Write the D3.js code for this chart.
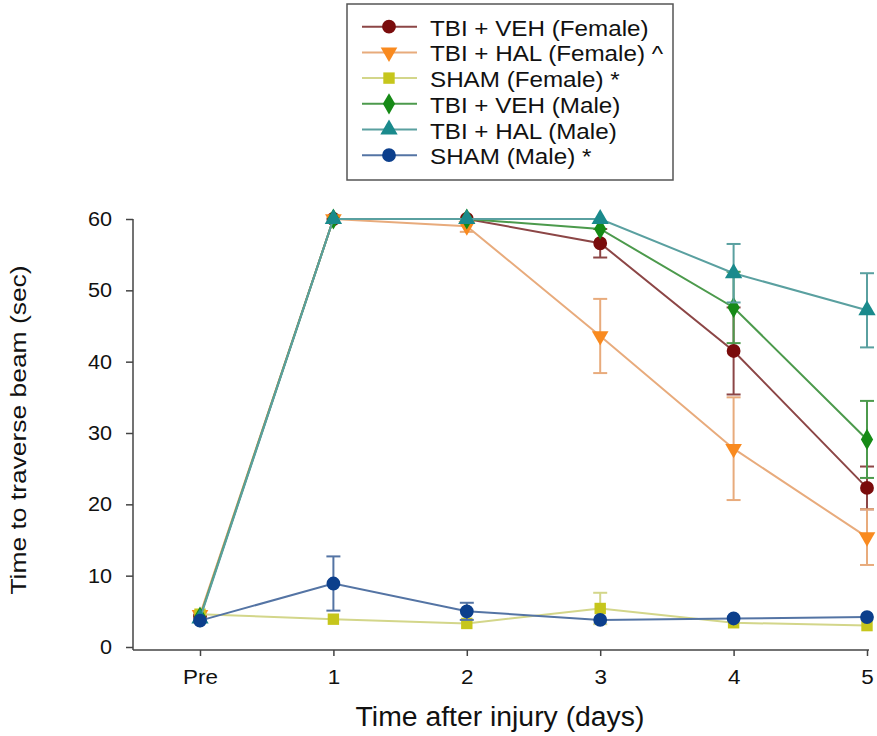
<!DOCTYPE html>
<html>
<head>
<meta charset="utf-8">
<script src="https://cdn.jsdelivr.net/npm/d3@7"></script>
<style>
  body { margin: 0; background: #fff; }
  text { font-family: "Liberation Sans", Arial, sans-serif; fill: #111; }
</style>
</head>
<body>
<div id="chart"></div>
<script>
// Data
var days = ["Pre", "1", "2", "3", "4", "5"];
var seriesNames = ["TBI + VEH (Female)", "TBI + HAL (Female) ^", "SHAM (Female) *",
                   "TBI + VEH (Male)", "TBI + HAL (Male)", "SHAM (Male) *"];
var vehFemale = [4.3, 60, 60, 56.6, 41.5, 22.3];
var vehFemaleErr = [0, 0, 0, 2.0, 6.1, 3.0];
var halFemale = [4.5, 60, 59.0, 43.6, 27.8, 15.4];
var halFemaleErr = [0, 0, 0.8, 5.2, 7.2, 3.9];
var shamFemale = [4.6, 3.9, 3.3, 5.4, 3.4, 3.0];
var shamFemaleErr = [0, 0, 0, 2.2, 0, 0];
var vehMale = [4.2, 60, 60, 58.6, 47.6, 29.1];
var vehMaleErr = [0, 0, 0, 0, 5.0, 5.4];
var halMale = [4.0, 60, 60, 60, 52.4, 47.2];
var halMaleErr = [0, 0, 0, 0, 4.1, 5.2];
var shamMale = [3.7, 8.9, 5.0, 3.8, 4.0, 4.2];
var shamMaleErr = [0, 3.8, 1.2, 0, 0, 0];
var yTicks = [0, 10, 20, 30, 40, 50, 60];

var values = [vehFemale, halFemale, shamFemale, vehMale, halMale, shamMale];
var errors = [vehFemaleErr, halFemaleErr, shamFemaleErr, vehMaleErr, halMaleErr, shamMaleErr];
var markerColors = ["#7a0c0c", "#f98a1f", "#c6c61c", "#168a16", "#1a8a8c", "#0c3f8c"];
var lineColors = ["#8c4646", "#e8ab7c", "#d3d68a", "#4c9a4c", "#5aa0a0", "#5474a4"];
var shapes = [d3.symbolCircle, "down", d3.symbolSquare, d3.symbolDiamond, d3.symbolTriangle, d3.symbolCircle];
var sizes = [150, 120, 130, 130, 130, 150];

var width = 877, height = 736;

var svg = d3.select("#chart").append("svg")
  .attr("width", width)
  .attr("height", height);

// widen text a little, the source font runs wider than Arial
function stretch(sel, k) {
  sel.each(function() {
    var len = this.getComputedTextLength();
    d3.select(this).attr("textLength", len * k).attr("lengthAdjust", "spacingAndGlyphs");
  });
}

// Scales
var x = d3.scalePoint().domain(days).range([200, 867]);
var y = d3.scaleLinear().domain([0, 60]).range([647, 219]);

function symbolPath(i) {
  if (shapes[i] === "down") {
    return d3.symbol().type(d3.symbolTriangle).size(sizes[i])();
  }
  return d3.symbol().type(shapes[i]).size(sizes[i])();
}

// Axes
var yAxis = svg.append("g")
  .attr("transform", "translate(133,0)")
  .call(d3.axisLeft(y).tickValues(yTicks).tickSize(7).tickPadding(14));
yAxis.select(".domain").attr("d", "M0," + y(60) + "V650");

var xAxis = svg.append("g")
  .attr("transform", "translate(0,650)")
  .call(d3.axisBottom(x).tickSize(6).tickPadding(14));
xAxis.select(".domain").attr("d", "M133,0H869");

svg.selectAll(".tick line").attr("stroke", "#444").attr("stroke-width", 1.5);
svg.selectAll(".domain").attr("stroke", "#444").attr("stroke-width", 1.5);
svg.selectAll(".tick text").style("font-size", "20px").attr("fill", "#111");
stretch(yAxis.selectAll(".tick text"), 1.08);
stretch(xAxis.selectAll(".tick text"), 1.12);

// Axis titles
svg.append("text")
  .attr("x", 500).attr("y", 726)
  .attr("text-anchor", "middle")
  .style("font-size", "27px")
  .text("Time after injury (days)")
  .call(stretch, 1.05);

svg.append("text")
  .attr("transform", "translate(26,430) rotate(-90)")
  .attr("text-anchor", "middle")
  .style("font-size", "22px")
  .text("Time to traverse beam (sec)")
  .call(stretch, 1.2);

// Series
var line = d3.line()
  .x(function(d, i) { return x(days[i]); })
  .y(function(d) { return y(d); });

values.forEach(function(vals, s) {
  var g = svg.append("g").attr("class", "series");

  g.append("path")
    .datum(vals)
    .attr("fill", "none")
    .attr("stroke", lineColors[s])
    .attr("stroke-width", 2)
    .attr("d", line);

  // error bars
  var errs = vals.map(function(v, i) { return {v: v, e: errors[s][i], i: i}; })
    .filter(function(d) { return d.e > 0; });
  errs.forEach(function(d) {
    var cx = x(days[d.i]);
    g.append("line")
      .attr("x1", cx).attr("x2", cx)
      .attr("y1", y(d.v - d.e)).attr("y2", y(d.v + d.e))
      .attr("stroke", lineColors[s]).attr("stroke-width", 2);
    [d.v - d.e, d.v + d.e].forEach(function(c) {
      g.append("line")
        .attr("x1", cx - 7).attr("x2", cx + 7)
        .attr("y1", y(c)).attr("y2", y(c))
        .attr("stroke", lineColors[s]).attr("stroke-width", 2);
    });
  });

  g.selectAll(".mark")
    .data(vals)
    .enter()
    .append("path")
    .attr("class", "mark")
    .attr("d", symbolPath(s))
    .attr("transform", function(d, i) {
      var t = "translate(" + x(days[i]) + "," + y(d) + ")";
      if (shapes[s] === "down") t += " rotate(180)";
      return t;
    })
    .attr("fill", markerColors[s]);
});

// Legend
var legendBox = svg.append("g");
legendBox.append("rect")
  .attr("x", 347).attr("y", 4)
  .attr("width", 326).attr("height", 176)
  .attr("fill", "#fff")
  .attr("stroke", "#555")
  .attr("stroke-width", 1.5);

var legend = legendBox.selectAll(".legend")
  .data(seriesNames)
  .enter()
  .append("g")
  .attr("class", "legend")
  .attr("transform", function(d, i) { return "translate(0," + (26.7 + i * 25.7) + ")"; });

legend.append("line")
  .attr("x1", 362).attr("x2", 417)
  .attr("y1", 0).attr("y2", 0)
  .attr("stroke", function(d, i) { return lineColors[i]; })
  .attr("stroke-width", 2);

legend.append("path")
  .attr("d", function(d, i) { return symbolPath(i); })
  .attr("transform", function(d, i) {
    return "translate(389,0)" + (shapes[i] === "down" ? " rotate(180)" : "");
  })
  .attr("fill", function(d, i) { return markerColors[i]; });

legend.append("text")
  .attr("x", 430).attr("y", 9)
  .style("font-size", "22px")
  .text(function(d) { return d; })
  .call(stretch, 1.1);
</script>
</body>
</html>
